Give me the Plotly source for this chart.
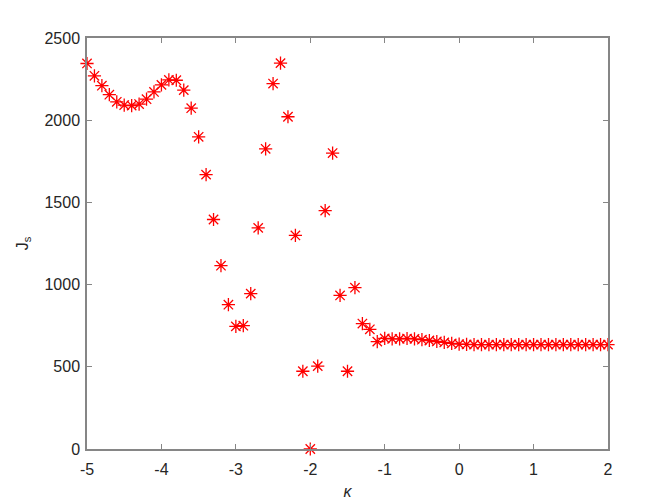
import plotly.graph_objects as go

# ── Data ──────────────────────────────────────────────────────────────────────
kappa = [round(-5 + 0.1 * i, 1) for i in range(71)]

js_values = [
    2345, 2270, 2210, 2155, 2112, 2092, 2089, 2098, 2128, 2172,
    2215, 2245, 2243, 2183, 2073, 1899, 1669, 1396, 1115, 878,
    746, 750, 945, 1345, 1826, 2223, 2347, 2021, 1299, 473,
    0, 504, 1450, 1800, 934, 473, 981, 763, 728, 653,
    673, 670, 670, 672, 670, 665, 660, 654, 648, 642,
    638, 636, 635, 635, 635, 635, 635, 635, 635, 635,
    635, 635, 635, 635, 635, 635, 635, 635, 635, 635,
    635,
]

x_ticks = [-5, -4, -3, -2, -1, 0, 1, 2]
y_ticks = [0, 500, 1000, 1500, 2000, 2500]

AXIS_COLOR = "#868686"
TEXT_COLOR = "#262626"
FONT = "Liberation Sans, Arial"

fig = go.Figure()

fig.add_trace(go.Scatter(
    x=kappa,
    y=js_values,
    mode="markers",
    marker=dict(symbol="asterisk-open", size=11, color="#ff0000",
                line=dict(color="#ff0000", width=1.3)),
    cliponaxis=False,
    showlegend=False,
))

axis_common = dict(
    showline=True, linecolor=AXIS_COLOR, linewidth=1.5,
    mirror="ticks", ticks="inside", ticklen=5, tickcolor=AXIS_COLOR,
    showgrid=False, zeroline=False,
    tickfont=dict(size=16, color=TEXT_COLOR, family=FONT),
)

# page body has an 8px margin, so the margins below are shifted by 8px
fig.update_layout(
    width=672, height=504,
    margin=dict(l=79, r=72, t=30, b=63),
    plot_bgcolor="white",
    paper_bgcolor="white",
    font=dict(family=FONT, color=TEXT_COLOR),
    xaxis=dict(range=[-5, 2], tickvals=x_ticks, ticktext=[str(v) for v in x_ticks],
               ticklabelstandoff=5,
               title=dict(text="<i>κ</i>", font=dict(size=16, color=TEXT_COLOR), standoff=9),
               **axis_common),
    yaxis=dict(range=[0, 2500], tickvals=y_ticks, ticklabelstandoff=2,
               title=dict(text="J<sub>s</sub>", font=dict(size=16, color=TEXT_COLOR), standoff=12),
               **axis_common),
)

fig.write_html("out.html")
